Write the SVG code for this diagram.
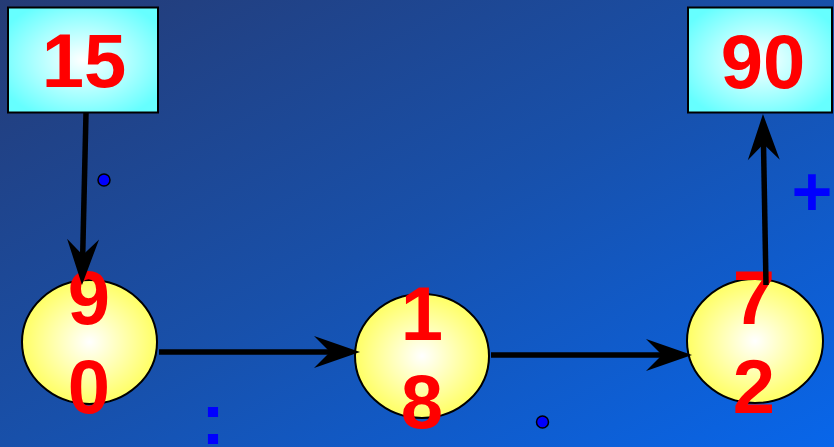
<svg xmlns="http://www.w3.org/2000/svg" width="834" height="447" viewBox="0 0 834 447">
<defs>
<linearGradient id="bg" x1="0" y1="0" x2="1" y2="1">
<stop offset="0" stop-color="#253b75"/>
<stop offset="0.5" stop-color="#1850aa"/>
<stop offset="1" stop-color="#0866ea"/>
</linearGradient>
<radialGradient id="cy" cx="0.5" cy="0.5" r="0.6">
<stop offset="0" stop-color="#ffffff"/>
<stop offset="1" stop-color="#66ffff"/>
</radialGradient>
<radialGradient id="ye" cx="0.5" cy="0.5" r="0.55">
<stop offset="0" stop-color="#ffffff"/>
<stop offset="1" stop-color="#ffff55"/>
</radialGradient>
<marker id="ah" markerUnits="userSpaceOnUse" markerWidth="80" markerHeight="40" refX="0" refY="0" viewBox="-30 -20 60 40" orient="auto" overflow="visible">
<path d="M30,0 L-16,-16 L0,0 L-16,16 Z" fill="#000"/>
</marker>
<style>
.box{fill:url(#cy);stroke:#000;stroke-width:2}
.ell{fill:url(#ye);stroke:#000;stroke-width:2}
.num{font-family:"Liberation Sans",Arial,sans-serif;font-weight:bold;font-size:76px;fill:#ff0000;text-anchor:middle}
.op{font-family:"Liberation Sans",Arial,sans-serif;font-weight:bold;fill:#0000ff;text-anchor:middle}
.con{stroke:#000;stroke-width:5.5;fill:none;marker-end:url(#ah)}
.dot{fill:#0000ff;stroke:#000;stroke-width:1.5}
</style>
</defs>
<rect width="834" height="447" fill="url(#bg)"/>
<g id="n15">
<rect class="box" x="8" y="7.5" width="150" height="105"/>
<text class="num" x="84" y="87">15</text>
</g>
<g id="n90">
<rect class="box" x="688" y="7.5" width="144" height="105"/>
<text class="num" x="763" y="88">90</text>
</g>
<g id="c90">
<ellipse class="ell" cx="89.5" cy="342" rx="67.5" ry="62"/>
<text class="num" x="89" y="324">9</text>
<text class="num" x="89" y="413">0</text>
</g>
<g id="c18">
<ellipse class="ell" cx="422" cy="356" rx="67" ry="62"/>
<text class="num" x="422" y="340">1</text>
<text class="num" x="422" y="428">8</text>
</g>
<g id="c72">
<ellipse class="ell" cx="755" cy="341" rx="68" ry="62"/>
<text class="num" x="754" y="324">7</text>
<text class="num" x="754" y="413">2</text>
</g>
<g id="connectors">
<line class="con" x1="86" y1="113" x2="82.7" y2="255"/>
<line class="con" x1="159" y1="352" x2="330" y2="352"/>
<line class="con" x1="491" y1="355" x2="662" y2="355"/>
<line class="con" x1="766" y1="285" x2="763.5" y2="144"/>
</g>
<g id="labels">
<circle class="dot" cx="104" cy="180" r="6"/>
<circle class="dot" cx="542.5" cy="422" r="6"/>
<text class="op" x="213" y="444" font-size="72">:</text>
<text class="op" x="812" y="216" font-size="70">+</text>
</g>
</svg>
